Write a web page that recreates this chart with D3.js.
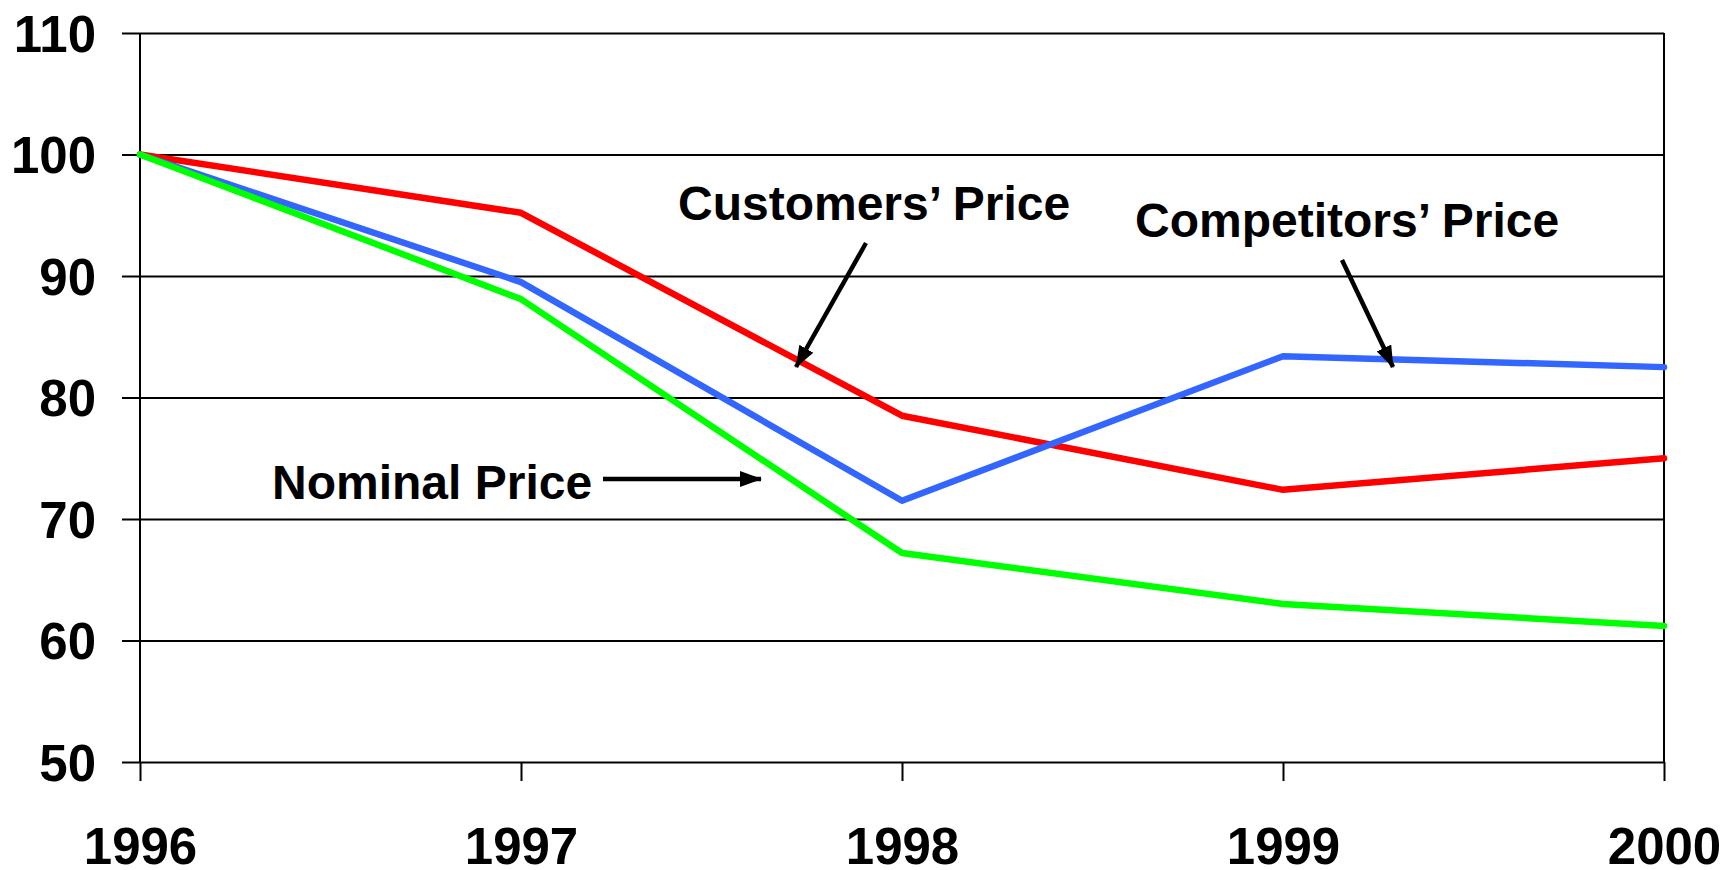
<!DOCTYPE html>
<html>
<head>
<meta charset="utf-8">
<script src="https://cdn.jsdelivr.net/npm/d3@7"></script>
<style>
  body { margin: 0; background: #fff; }
  text { font-family: "Liberation Sans", Arial, sans-serif; font-weight: bold; fill: #000; }
</style>
</head>
<body>
<svg id="chart" width="1736" height="870"></svg>
<script>
const years = [1996, 1997, 1998, 1999, 2000];
const yTicks = [50, 60, 70, 80, 90, 100, 110];

const customersPrice = [100, 95.2, 78.5, 72.4, 75.0];
const competitorsPrice = [100, 89.5, 71.5, 83.4, 82.5];
const nominalPrice = [100, 88.1, 67.2, 63.0, 61.2];

const seriesList = [
  { name: "Customers’ Price", values: customersPrice, color: "#ff0000" },
  { name: "Competitors’ Price", values: competitorsPrice, color: "#3366ff" },
  { name: "Nominal Price", values: nominalPrice, color: "#00ff00" }
];

const svg = d3.select('#chart');
const margin = {top: 33, right: 72, bottom: 108, left: 140};
const width = +svg.attr('width');
const height = +svg.attr('height');
const innerWidth = width - margin.left - margin.right;
const innerHeight = height - margin.top - margin.bottom;

const x = d3.scaleLinear().domain([1996, 2000]).range([0, innerWidth]);
const y = d3.scaleLinear().domain([50, 110]).range([innerHeight, 0]);

const g = svg.append('g')
  .attr('transform', `translate(${margin.left},${margin.top})`);

// horizontal gridlines + y labels (axis placed at right edge so ticks span the plot)
const yAxisG = g.append('g')
  .attr('transform', `translate(${innerWidth},0)`)
  .call(d3.axisLeft(y).tickValues(yTicks).tickSize(innerWidth + 18).tickPadding(26).tickFormat(d3.format('d')));
yAxisG.select('.domain').remove();
yAxisG.selectAll('line').attr('stroke', '#000').attr('stroke-width', 2);
yAxisG.selectAll('text')
  .style('font-size', '51px')
  .attr('dy', '0.36em');

// x axis ticks + labels
const xAxisG = g.append('g')
  .attr('transform', `translate(0,${innerHeight})`)
  .call(d3.axisBottom(x).tickValues(years).tickSize(19).tickPadding(47).tickFormat(d3.format('d')));
xAxisG.select('.domain').remove();
xAxisG.selectAll('line').attr('stroke', '#000').attr('stroke-width', 2);
xAxisG.selectAll('text').style('font-size', '51px');

// vertical frame lines at first and last year
g.selectAll('line.frame').data([1996, 2000])
  .join('line')
  .attr('class', 'frame')
  .attr('x1', d => x(d)).attr('x2', d => x(d))
  .attr('y1', 0).attr('y2', innerHeight)
  .attr('stroke', '#000')
  .attr('stroke-width', 2);

// series lines
const line = d3.line()
  .x((d, i) => x(years[i]))
  .y(d => y(d));

g.selectAll('path.series').data(seriesList)
  .join('path')
  .attr('class', 'series')
  .attr('d', d => line(d.values))
  .attr('fill', 'none')
  .attr('stroke', d => d.color)
  .attr('stroke-width', 6.5)
  .attr('stroke-linecap', 'round')
  .attr('stroke-linejoin', 'round');

// annotations
svg.append('defs').append('marker')
  .attr('id', 'arrow')
  .attr('markerUnits', 'userSpaceOnUse')
  .attr('markerWidth', 22).attr('markerHeight', 16)
  .attr('refX', 21).attr('refY', 8)
  .attr('orient', 'auto')
  .append('path')
  .attr('d', 'M0,0 L22,8 L0,16 Z')
  .attr('fill', '#000');

const annotations = [
  { text: "Customers’ Price", tx: 678, ty: 220, x1: 866, y1: 243, x2: 796, y2: 367 },
  { text: "Competitors’ Price", tx: 1135, ty: 237, x1: 1342, y1: 260, x2: 1393, y2: 367 },
  { text: "Nominal Price", tx: 272, ty: 499, x1: 603, y1: 479, x2: 761, y2: 479 }
];

svg.selectAll('text.note').data(annotations)
  .join('text')
  .attr('class', 'note')
  .attr('x', d => d.tx)
  .attr('y', d => d.ty)
  .style('font-size', '48px')
  .text(d => d.text);

svg.selectAll('line.arrow').data(annotations)
  .join('line')
  .attr('class', 'arrow')
  .attr('x1', d => d.x1).attr('y1', d => d.y1)
  .attr('x2', d => d.x2).attr('y2', d => d.y2)
  .attr('stroke', '#000')
  .attr('stroke-width', 4.5)
  .attr('marker-end', 'url(#arrow)');
</script>
</body>
</html>
